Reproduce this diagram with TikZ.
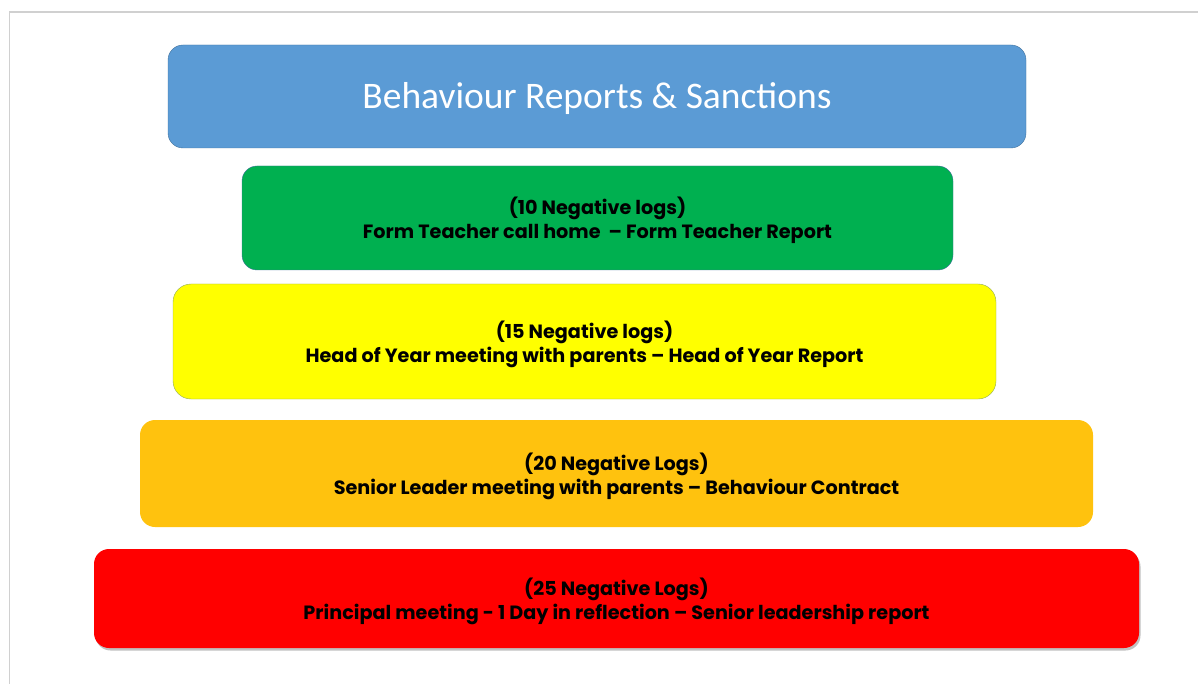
\documentclass[tikz,border=0pt]{standalone}
\usepackage{fontspec}
\usepackage{tikz}
\usetikzlibrary{positioning,shadows}
\newfontfamily\titlefont{Carlito}
\newfontfamily\tierfont{Poppins}
\definecolor{rimgrey}{HTML}{D0D0D0}
\definecolor{titleblue}{HTML}{5B9BD5}
\definecolor{titleedge}{HTML}{41719C}
\definecolor{formgreen}{HTML}{00B050}
\definecolor{hoyyellow}{HTML}{FFFF00}
\definecolor{hoyedge}{HTML}{8FAA5C}
\definecolor{slamber}{HTML}{FFC20E}
\definecolor{prinred}{HTML}{FF0000}
\tikzset{
  tier/.style={rounded corners=15pt, align=center, inner sep=0pt, text depth=0pt,
               font=\tierfont\bfseries\fontsize{19.2}{24}\selectfont, text=black},
  headbox/.style={tier, draw=titleedge, fill=titleblue, text=white, text height=25pt,
                  font=\titlefont\fontsize{37.5}{42}\selectfont},
}
\begin{document}
\begin{tikzpicture}[x=1pt, y=-1pt]
\useasboundingbox (0,0) rectangle (1198,684);
% slide edge
\draw[rimgrey, line width=1.2pt] (9.5,684) -- (9.5,12) -- (1198,12);

\node[headbox, minimum width=858pt, minimum height=103pt] (head) at (597,96.5)
  {Behaviour Reports \& Sanctions};
\node[tier, draw=titleedge, fill=formgreen, minimum width=711pt, minimum height=104pt]
  (form) at (597.5,218) {(10 Negative logs)\\Form Teacher call home~~– Form Teacher Report};
\node[tier, draw=hoyedge, fill=hoyyellow, rounded corners=18pt, minimum width=823pt,
  minimum height=115pt] (hoy) at (584.5,341.5)
  {(15 Negative logs)\\Head of Year meeting with parents – Head of Year Report};
\node[tier, fill=slamber, minimum width=953pt, minimum height=107pt] (senior) at (616.5,473.5)
  {(20 Negative Logs)\\Senior Leader meeting with parents – Behaviour Contract};
\node[tier, fill=prinred, minimum width=1045pt, minimum height=99pt,
  drop shadow={shadow xshift=1.5pt, shadow yshift=-2.5pt, opacity=0.35, fill=black!70}]
  (principal) at (616.5,598.5)
  {(25 Negative Logs)\\Principal meeting - 1 Day in reflection – Senior leadership report};
\end{tikzpicture}
\end{document}
